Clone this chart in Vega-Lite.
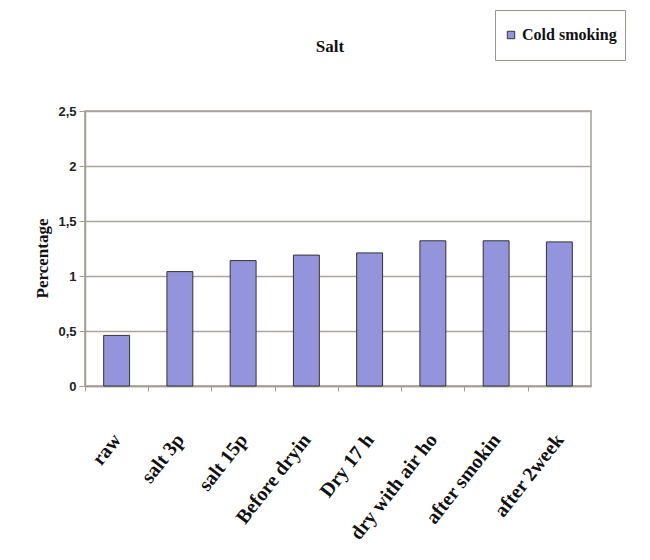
{
  "$schema": "https://vega.github.io/schema/vega-lite/v6.json",
  "autosize": {"type": "none"},
  "width": 506,
  "height": 275,
  "padding": {"left": 85, "top": 111, "right": 59, "bottom": 174},
  "background": "#ffffff",
  "title": {
    "text": "Salt",
    "font": "Liberation Serif",
    "fontSize": 17,
    "fontWeight": "bold",
    "color": "#111111",
    "anchor": "middle",
    "dx": -8,
    "offset": 0,
    "dy": 46
  },
  "data": {
    "values": [
      {"step": "raw", "salt": 0.46, "series": "Cold smoking"},
      {"step": "salt 3p", "salt": 1.04, "series": "Cold smoking"},
      {"step": "salt 15p", "salt": 1.14, "series": "Cold smoking"},
      {"step": "Before dryin", "salt": 1.19, "series": "Cold smoking"},
      {"step": "Dry 17 h", "salt": 1.21, "series": "Cold smoking"},
      {"step": "dry with air ho", "salt": 1.32, "series": "Cold smoking"},
      {"step": "after smokin", "salt": 1.32, "series": "Cold smoking"},
      {"step": "after 2week", "salt": 1.31, "series": "Cold smoking"}
    ]
  },
  "mark": {"type": "bar", "stroke": "#333333", "strokeWidth": 1},
  "encoding": {
    "x": {
      "field": "step",
      "type": "nominal",
      "sort": null,
      "scale": {"paddingInner": 0.59, "paddingOuter": 0.295},
      "axis": {
        "title": null,
        "bandPosition": 0,
        "tickOffset": -18.7,
        "labelOffset": 18.7,
        "labelAngle": -52,
        "labelAlign": "right",
        "labelBaseline": "middle",
        "labelPadding": 45,
        "labelFont": "Liberation Serif",
        "labelFontSize": 20,
        "labelFontWeight": "bold",
        "labelColor": "#111111",
        "tickSize": 5,
        "tickColor": "#a39e95",
        "domainColor": "#a39e95",
        "domainWidth": 1.5,
        "grid": false
      }
    },
    "y": {
      "field": "salt",
      "type": "quantitative",
      "scale": {"domain": [0, 2.5], "nice": false},
      "axis": {
        "title": "Percentage",
        "titleFont": "Liberation Serif",
        "titleFontSize": 17,
        "titleFontWeight": "bold",
        "titleColor": "#111111",
        "titlePadding": 6,
        "titleY": 147,
        "values": [0, 0.5, 1, 1.5, 2, 2.5],
        "format": "~g",
        "labelExpr": "replace(datum.label, '.', ',')",
        "labelFont": "Liberation Sans Narrow, Liberation Sans",
        "labelFontSize": 13,
        "labelFontWeight": "bold",
        "labelColor": "#222222",
        "labelPadding": 3,
        "tickSize": 6,
        "tickColor": "#a39e95",
        "domainColor": "#a39e95",
        "domainWidth": 1.5,
        "grid": true,
        "gridColor": "#aaa69e",
        "gridWidth": 1.6
      }
    },
    "color": {
      "field": "series",
      "type": "nominal",
      "scale": {"range": ["#9494dc"]},
      "legend": {
        "title": null,
        "orient": "none",
        "legendX": 410,
        "legendY": -101,
        "padding": 8,
        "clipHeight": 34,
        "strokeColor": "#9a958d",
        "fillColor": "#ffffff",
        "symbolType": "square",
        "symbolSize": 55,
        "symbolStrokeColor": "#333333",
        "symbolStrokeWidth": 1,
        "labelFont": "Liberation Serif",
        "labelFontSize": 16,
        "labelFontWeight": "bold",
        "labelColor": "#111111",
        "labelOffset": 3
      }
    }
  },
  "config": {
    "view": {"stroke": "#a39e95", "strokeWidth": 1.5},
    "axis": {"labelFlush": false, "labelOverlap": false}
  }
}
